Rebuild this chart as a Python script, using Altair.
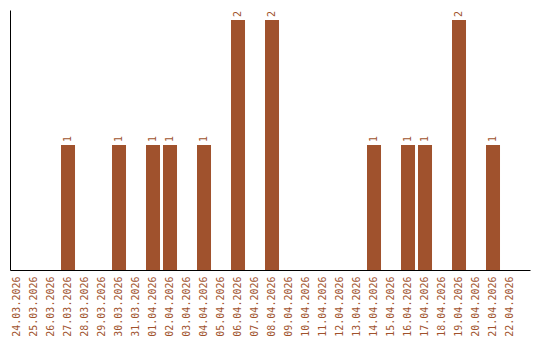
import altair as alt
import pandas as pd

dates = ["24.03.2026", "25.03.2026", "26.03.2026", "27.03.2026", "28.03.2026",
         "29.03.2026", "30.03.2026", "31.03.2026", "01.04.2026", "02.04.2026",
         "03.04.2026", "04.04.2026", "05.04.2026", "06.04.2026", "07.04.2026",
         "08.04.2026", "09.04.2026", "10.04.2026", "11.04.2026", "12.04.2026",
         "13.04.2026", "14.04.2026", "15.04.2026", "16.04.2026", "17.04.2026",
         "18.04.2026", "19.04.2026", "20.04.2026", "21.04.2026", "22.04.2026"]
counts = [0, 0, 0, 1, 0, 0, 1, 0, 1, 1,
          0, 1, 0, 2, 0, 2, 0, 0, 0, 0,
          0, 1, 0, 1, 1, 0, 2, 0, 1, 0]

df = pd.DataFrame({"date": dates, "count": counts})
COLOR = "#a0522d"
FONT = "DejaVu Sans Mono"

x = alt.X("date:N", sort=dates, title=None,
          scale=alt.Scale(paddingInner=0.176, paddingOuter=0.382, align=0),
          axis=alt.Axis(labelAngle=-90, labelColor=COLOR, labelFont=FONT,
                        labelFontSize=10, ticks=False, domainColor="black",
                        labelPadding=6, labelOverlap=False))
y = alt.Y("count:Q", title=None, scale=alt.Scale(domain=[0, 2.08], nice=False),
          axis=alt.Axis(labels=False, ticks=False, grid=False, domainColor="black"))

bars = alt.Chart(df).mark_bar(color=COLOR).encode(x=x, y=y)
labels = alt.Chart(df).transform_filter("datum.count > 0").mark_text(
    angle=270, align="left", baseline="middle", dx=3, color=COLOR,
    font=FONT, fontSize=10).encode(x=alt.X("date:N", sort=dates), y="count:Q", text="count:Q")

chart = (bars + labels).properties(
    width=520, height=260,
    padding={"left": 10, "top": 10, "right": 10, "bottom": 0}
).configure_view(stroke=None)

chart.save("out.html", embed_options={"renderer": "svg", "actions": False})
